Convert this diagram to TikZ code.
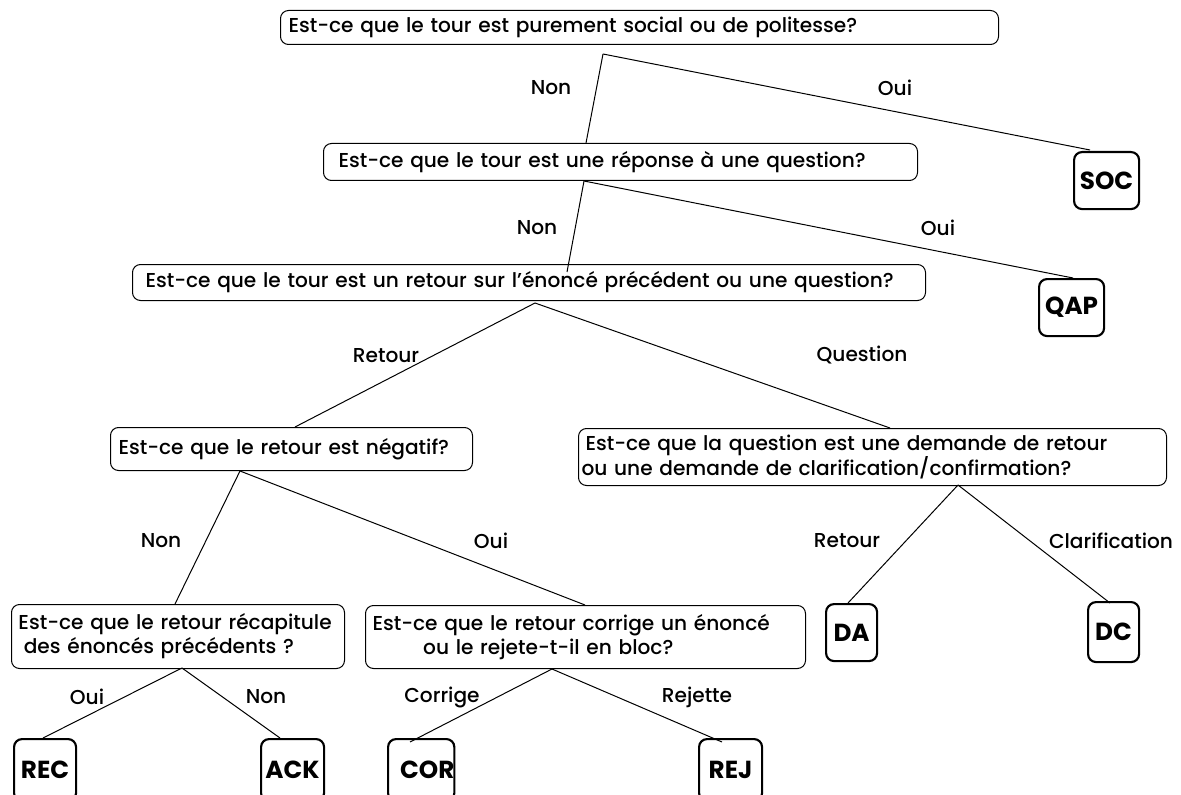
\documentclass[tikz,border=0pt]{standalone}
\usepackage{fontspec}
\setmainfont{Poppins}
\newfontfamily\myqfam{Poppins Medium}
\usetikzlibrary{calc}
\newcommand\myqfont{\myqfam\fontsize{15.1}{18}\selectfont}
\newcommand\myleaffont{\fontsize{18.5}{20}\selectfont\bfseries}
\begin{document}
\begin{tikzpicture}[x=0.75pt,y=-0.75pt,
  qbox/.style={draw, line width=0.75pt, rounded corners=6pt, anchor=north west, inner ysep=0pt, align=left, font=\myqfont},
  leaf/.style={draw, line width=1.6pt, rounded corners=6pt, anchor=north west, inner sep=0pt, font=\myleaffont},
  lab/.style={font=\myqfont},
  conn/.style={line width=0.75pt}]
\useasboundingbox (0,0) rectangle (1181,795);
% question boxes
\node[qbox, minimum width=538.5pt, minimum height=25.5pt, inner xsep=6pt, text width=526.5pt] (q1) at (280,10) {Est-ce que le tour est purement social ou de politesse?};
\node[qbox, minimum width=445.5pt, minimum height=27.75pt, inner xsep=11.25pt, text width=423pt] (q2) at (323,143) {Est-ce que le tour est une réponse à une question?};
\node[qbox, minimum width=594.75pt, minimum height=27pt, inner xsep=9.75pt, text width=575.25pt] (q3) at (132,264) {Est-ce que le tour est un retour sur l’énoncé précédent ou une question?};
\node[qbox, minimum width=271.5pt, minimum height=32.25pt, inner xsep=6pt, text width=259.5pt] (q4) at (110,427) {Est-ce que le retour est négatif?};
\node[qbox, minimum width=441pt, minimum height=42.75pt, inner xsep=2.25pt, text width=436.5pt] (q5) at (578,428) {\hspace*{3pt}Est-ce que la question est une demande de retour\\ou une demande de clarification/confirmation?};
\node[qbox, minimum width=249.75pt, minimum height=48pt, inner xsep=5.25pt, text width=239.25pt] (q6) at (11,604) {Est-ce que le retour récapitule\\\hspace*{4pt}des énoncés précédents ?};
\node[qbox, minimum width=330pt, minimum height=47.25pt, inner xsep=5.25pt, text width=319.5pt] (q7) at (365,605) {Est-ce que le retour corrige un énoncé\\\hspace*{38pt}ou le rejete-t-il en bloc?};
% leaves
\node[leaf, minimum width=48.75pt, minimum height=42.75pt] (soc) at (1073,151) {SOC};
\node[leaf, minimum width=48.75pt, minimum height=42.75pt] (qap) at (1038,278) {QAP};
\node[leaf, minimum width=38.25pt, minimum height=42.75pt] (da) at (825,603) {DA};
\node[leaf, minimum width=38.25pt, minimum height=45pt] (dc) at (1087,601) {DC};
\node[leaf, minimum width=46.5pt, minimum height=46.5pt] (rec) at (13,738) {REC};
\node[leaf, minimum width=47.25pt, minimum height=46.5pt] (ack) at (260,738) {ACK};
\node[leaf, minimum width=47.25pt, minimum height=46.5pt] (cor) at (387,738) {\hspace*{9pt}COR};
\node[leaf, minimum width=47.25pt, minimum height=46.5pt] (rej) at (698,738) {REJ};
% apex coordinates
\coordinate (a1) at ($(q1.south west)+(323,9)$);
\coordinate (a2) at ($(q2.south west)+(261,0)$);
\coordinate (a3) at ($(q3.south west)+(403,2)$);
\coordinate (a4) at ($(q4.south west)+(130,0)$);
\coordinate (a5) at ($(q5.south west)+(380,-1)$);
\coordinate (a6) at ($(q6.south west)+(171,-1)$);
\coordinate (a7) at ($(q7.south west)+(187,0)$);
% connectors
\draw[conn] (a1) -- ($(q2.north west)+(263,0)$);
\draw[conn] (a1) -- ($(soc.north west)+(17,-1)$);
\draw[conn] (a2) -- ($(q3.north west)+(435,8)$);
\draw[conn] (a2) -- ($(qap.north west)+(35,0)$);
\draw[conn] (a3) -- ($(q4.north west)+(185,0)$);
\draw[conn] (a3) -- ($(q5.north west)+(312,0)$);
\draw[conn] (a4) -- ($(q6.north west)+(164,0)$);
\draw[conn] (a4) -- ($(q7.north west)+(220,0)$);
\draw[conn] (a5) -- ($(da.north west)+(23,0)$);
\draw[conn] (a5) -- ($(dc.north west)+(23,2)$);
\draw[conn] (a6) -- ($(rec.north west)+(30,0)$);
\draw[conn] (a6) -- ($(ack.north west)+(20,0)$);
\draw[conn] (a7) -- ($(cor.north west)+(23,4)$);
\draw[conn] (a7) -- ($(rej.north west)+(24,4)$);
% labels
\node[lab] (l1) at (551,88) {Non};
\node[lab] (l2) at (895,88) {Oui};
\node[lab] (l3) at (537,228) {Non};
\node[lab] (l4) at (938,228) {Oui};
\node[lab] (l5) at (386,356) {Retour};
\node[lab] (l6) at (862,355) {Question};
\node[lab] (l7) at (161,541) {Non};
\node[lab] (l8) at (491,541) {Oui};
\node[lab] (l9) at (847,541) {Retour};
\node[lab] (l10) at (1111,541) {Clarification};
\node[lab] (l11) at (87,697) {Oui};
\node[lab] (l12) at (266,697) {Non};
\node[lab] (l13) at (442,697) {Corrige};
\node[lab] (l14) at (697,697) {Rejette};
\end{tikzpicture}
\end{document}
